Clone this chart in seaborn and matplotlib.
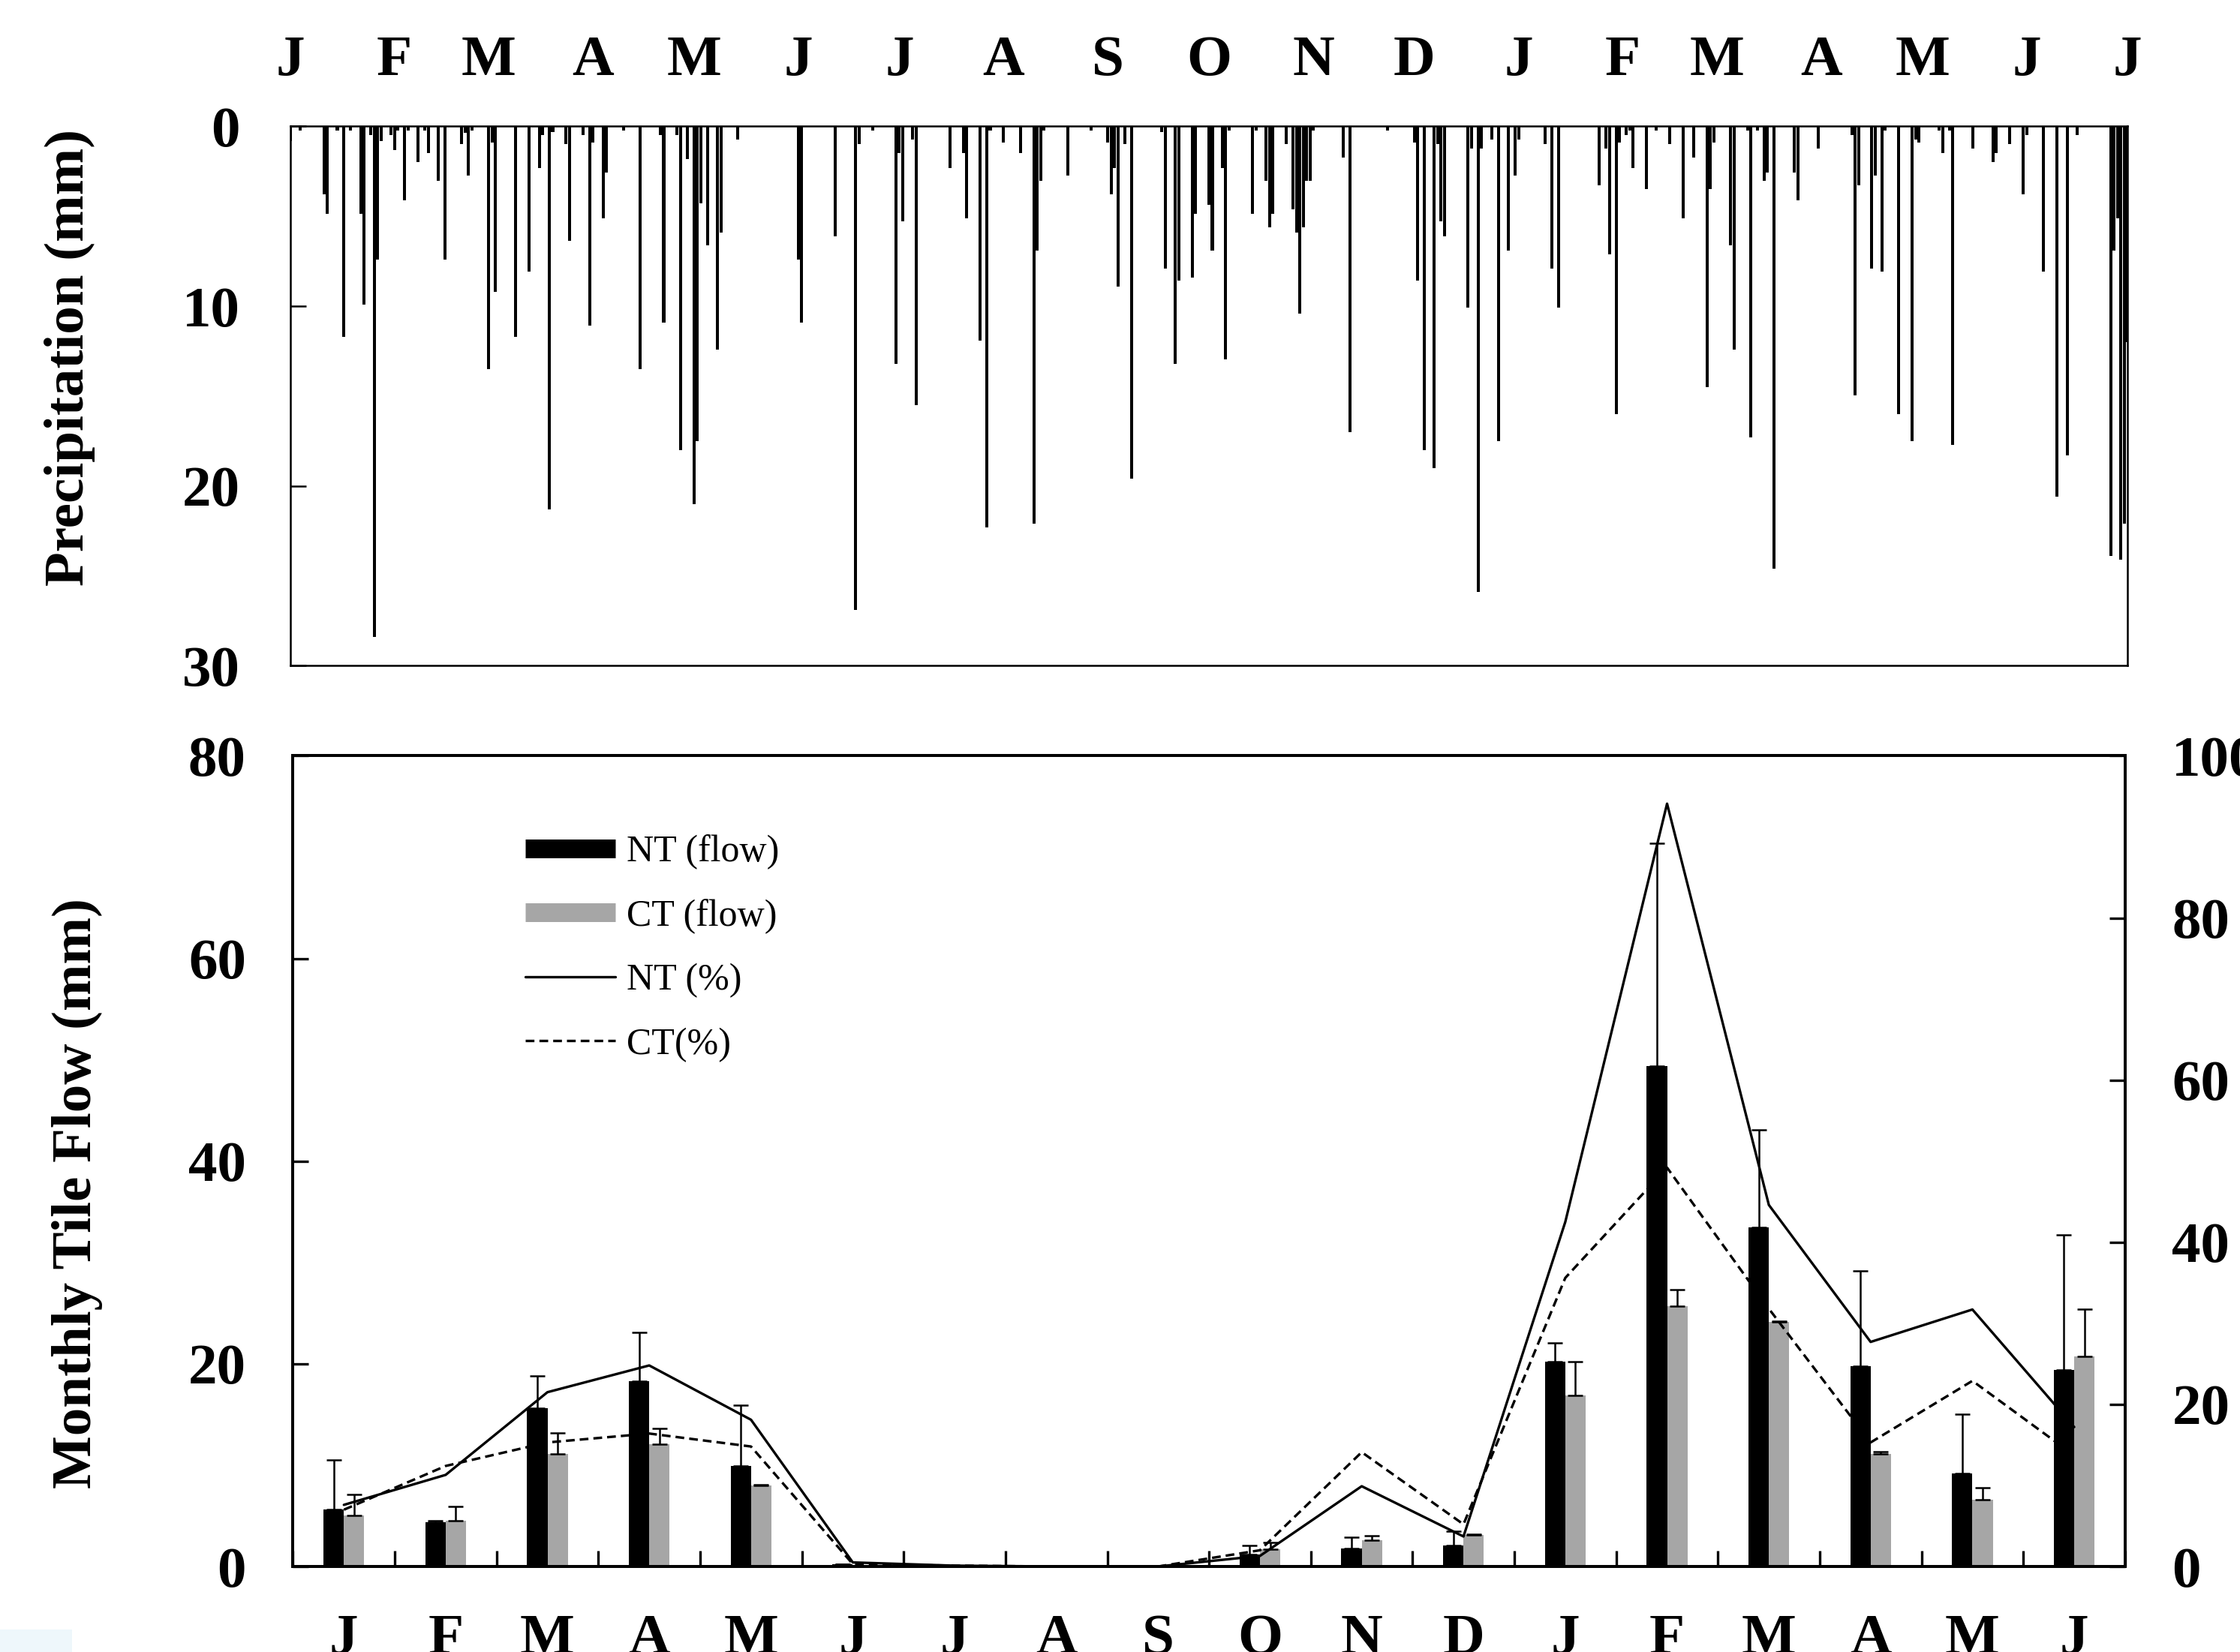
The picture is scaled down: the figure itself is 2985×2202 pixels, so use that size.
import numpy as np
import pandas as pd
import seaborn as sns
import matplotlib.pyplot as plt
from matplotlib.lines import Line2D
from matplotlib.patches import Rectangle

# ----------------------------------------------------------------- DATA -----------------------------------------------------------------

# Daily precipitation: day offset from 1 January of the first year, depth in mm
rain_day = [0, 3, 10, 11, 14, 16, 18, 21, 22, 24, 25, 26, 27, 30, 31, 32, 34, 35, 38, 40,
            41, 44, 46, 51, 52, 53, 54, 59, 60, 61, 67, 71, 74, 75, 77, 78, 82, 83, 87, 89,
            90, 93, 94, 99, 104, 110, 111, 115, 116, 118, 120, 121, 122, 124, 127, 128, 133, 151, 152, 162,
            168, 169, 173, 180, 181, 182, 185, 186, 196, 200, 201, 205, 207, 208, 212, 217, 221, 222, 223, 224,
            231, 238, 243, 244, 245, 246, 248, 250, 259, 260, 263, 264, 268, 269, 273, 274, 277, 278, 279, 286,
            287, 290, 291, 292, 296, 298, 299, 300, 301, 302, 303, 304, 313, 315, 326, 334, 335, 337, 340, 341,
            342, 343, 350, 351, 353, 354, 357, 359, 362, 364, 365, 373, 375, 377, 389, 391, 392, 394, 395, 397,
            398, 399, 403, 406, 410, 414, 417, 421, 422, 423, 428, 429, 433, 434, 436, 438, 439, 441, 447, 448,
            454, 464, 465, 466, 470, 471, 473, 474, 478, 482, 483, 484, 490, 491, 493, 494, 500, 506, 507, 511,
            515, 516, 521, 525, 528, 531, 541, 542, 543, 544, 545, 546]
rain_mm = [0.8, 0.25, 3.8, 4.85, 0.25, 11.7, 0.25, 4.85, 9.9, 0.5, 28.4, 7.4, 0.8, 0.5, 1.3, 0.25, 4.1, 0.25, 2.0, 0.25,
           1.5, 3.05, 7.4, 1.0, 0.35, 2.75, 0.25, 13.5, 0.9, 9.2, 11.7, 8.1, 2.3, 0.5, 21.3, 0.3, 1.0, 6.35, 0.5, 11.1,
           0.9, 5.1, 2.55, 0.25, 13.5, 0.5, 10.9, 0.5, 18.0, 1.8, 21.0, 17.5, 4.3, 6.6, 12.4, 5.9, 0.75, 7.4, 10.9, 6.1,
           26.9, 1.0, 0.25, 13.2, 1.5, 5.3, 0.75, 15.5, 2.3, 1.5, 5.1, 11.9, 22.3, 0.25, 0.9, 1.5, 22.1, 6.9, 3.05, 0.25,
           2.75, 0.25, 0.9, 3.8, 2.3, 8.9, 1.0, 19.6, 0.3, 7.9, 13.2, 8.6, 8.4, 4.85, 4.35, 6.9, 2.3, 12.95, 0.25, 4.85,
           0.25, 3.05, 5.6, 4.85, 1.0, 4.6, 5.9, 10.4, 5.6, 3.05, 3.05, 0.25, 1.75, 17.0, 0.25, 0.9, 8.6, 18.0, 19.0, 1.0,
           5.3, 6.1, 10.1, 1.25, 25.9, 1.25, 0.75, 17.5, 6.9, 2.75, 0.75, 1.0, 7.9, 10.1, 3.3, 1.25, 7.1, 16.0, 0.9, 0.5,
           0.25, 2.3, 3.5, 0.25, 1.0, 5.1, 1.75, 14.5, 3.5, 0.9, 6.6, 12.4, 0.25, 17.3, 0.25, 3.05, 2.55, 24.6, 2.55, 4.1,
           1.25, 0.5, 14.95, 3.3, 7.9, 2.75, 8.1, 0.25, 16.0, 17.5, 0.75, 0.9, 0.25, 1.5, 0.25, 17.7, 1.25, 2.0, 1.5, 1.0,
           3.8, 0.5, 8.1, 20.6, 18.3, 0.5, 23.9, 6.9, 5.1, 24.1, 22.1, 12.0]

# Month starts (day offsets) and their initials for the precipitation panel
month_start = [0, 31, 59, 90, 120, 151, 181, 212, 243, 273, 304, 334, 365, 396, 424, 455, 485, 516, 546]
month_letters = ["J", "F", "M", "A", "M", "J", "J", "A", "S", "O", "N", "D", "J", "F", "M", "A", "M", "J", "J"]

# Monthly tile flow (mm), upper error (mm) and flow as % of precipitation
flow_months = ["J", "F", "M", "A", "M", "J", "J", "A", "S", "O", "N", "D", "J", "F", "M", "A", "M", "J"]
nt_flow = [5.6, 4.4, 15.6, 18.3, 9.9, 0.2, 0.0, 0.0, 0.0, 1.2, 1.8, 2.1, 20.2, 49.4, 33.5, 19.8, 9.2, 19.4]
ct_flow = [5.0, 4.5, 11.1, 12.1, 8.0, 0.1, 0.0, 0.0, 0.0, 1.7, 2.6, 3.1, 16.9, 25.7, 24.1, 11.1, 6.6, 20.7]
nt_err = [4.9, 0.1, 3.2, 4.8, 6.0, 0.0, 0.0, 0.0, 0.0, 0.9, 1.1, 1.4, 1.9, 22.0, 9.6, 9.4, 5.8, 13.3]
ct_err = [2.1, 1.4, 2.1, 1.5, 0.1, 0.0, 0.0, 0.0, 0.0, 0.7, 0.4, 0.1, 3.3, 1.6, 0.1, 0.2, 1.2, 4.7]
nt_pct = [7.6, 11.3, 21.5, 24.8, 18.1, 0.5, 0.1, 0.0, 0.0, 1.3, 9.9, 3.7, 42.5, 94.1, 44.6, 27.7, 31.7, 17.2]
ct_pct = [7.0, 12.4, 15.3, 16.4, 14.8, 0.3, 0.1, 0.0, 0.0, 2.0, 14.1, 5.2, 35.6, 49.2, 31.8, 15.3, 22.9, 13.7]

# ----------------------------------------------------------------- STYLE -----------------------------------------------------------------

sns.set_theme(style="ticks")
plt.rcParams["font.family"] = ["Liberation Serif", "DejaVu Serif"]
plt.rcParams["font.weight"] = "bold"
plt.rcParams["axes.labelweight"] = "bold"
plt.rcParams["text.color"] = "black"
plt.rcParams["axes.labelcolor"] = "black"
plt.rcParams["xtick.color"] = "black"
plt.rcParams["ytick.color"] = "black"
plt.rcParams["xtick.labelcolor"] = "black"
plt.rcParams["ytick.labelcolor"] = "black"

TICK_FS = 18.5
LABEL_FS = 18
GRAY = "#a6a6a6"
DASH = (0, (3.5, 2))

fig = plt.figure(figsize=(9.95, 7.34), dpi=300)

# ------------------------------------------------------- PRECIPITATION PANEL -------------------------------------------------------------

ax_p = fig.add_axes([0.12955, 0.59709, 0.8203, 0.32643])
ax_p.bar(rain_day, rain_mm, width=0.9, color="black", linewidth=0)
ax_p.set_xlim(0, 546)
ax_p.set_ylim(30, 0)
ax_p.xaxis.tick_top()
ax_p.set_xticks(month_start, month_letters)
ax_p.set_yticks([0, 10, 20, 30])
ax_p.tick_params(axis="x", length=0, pad=12.5, labelsize=TICK_FS)
ax_p.tick_params(axis="y", direction="in", length=5, width=0.6, pad=16, labelsize=TICK_FS)
for s in ax_p.spines.values():
    s.set_linewidth(0.6)
    s.set_color("black")

# ------------------------------------------------------- TILE FLOW PANEL ---------------------------------------------------------------

ax_f = fig.add_axes([0.1308, 0.05177, 0.8179, 0.4907])

flow_df = pd.DataFrame({
    "pos": list(range(18)) * 2,
    "flow": nt_flow + ct_flow,
    "trt": ["NT"] * 18 + ["CT"] * 18,
})
sns.barplot(data=flow_df, x="pos", y="flow", hue="trt", hue_order=["NT", "CT"],
            palette={"NT": "black", "CT": GRAY}, width=0.4, errorbar=None,
            saturation=1, linewidth=0, legend=False, ax=ax_f)

pos = np.arange(18)
ax_f.errorbar(pos - 0.1, nt_flow, yerr=[np.zeros(18), nt_err], fmt="none", ecolor="black",
              elinewidth=0.6, capsize=2.5, capthick=0.6, zorder=3)
ax_f.errorbar(pos + 0.1, ct_flow, yerr=[np.zeros(18), ct_err], fmt="none", ecolor="black",
              elinewidth=0.6, capsize=2.5, capthick=0.6, zorder=3)

ax_r = ax_f.twinx()
sns.lineplot(x=pos, y=nt_pct, color="black", lw=0.8, ax=ax_r)
sns.lineplot(x=pos, y=ct_pct, color="black", lw=0.8, linestyle=DASH, ax=ax_r)

ax_f.set_xlim(-0.5, 17.5)
ax_f.set_ylim(0, 80)
ax_r.set_ylim(0, 100)
ax_f.set_xlabel("")
ax_f.set_ylabel("")
ax_r.set_ylabel("")

ax_f.set_xticks(pos, flow_months)
ax_f.set_xticks(np.arange(-0.5, 18, 1), minor=True)
ax_f.set_yticks([0, 20, 40, 60, 80])
ax_r.set_yticks([0, 20, 40, 60, 80, 100])
ax_f.tick_params(axis="x", which="major", length=0, pad=15, labelsize=TICK_FS)
ax_f.tick_params(axis="x", which="minor", direction="in", length=5, width=0.8)
ax_f.tick_params(axis="y", direction="in", length=5, width=0.8, pad=15, labelsize=TICK_FS)
ax_r.tick_params(axis="y", direction="in", length=5, width=0.8, pad=15, labelsize=TICK_FS)
for a in (ax_f, ax_r):
    for s in a.spines.values():
        s.set_linewidth(0.9)
        s.set_color("black")

handles = [
    Line2D([], [], color="black", lw=6, solid_capstyle="butt"),
    Line2D([], [], color=GRAY, lw=6, solid_capstyle="butt"),
    Line2D([], [], color="black", lw=0.8),
    Line2D([], [], color="black", lw=0.8, linestyle=DASH),
]
ax_r.legend(handles, ["NT (flow)", "CT (flow)", "NT (%)", "CT(%)"], loc="upper left",
            bbox_to_anchor=(0.1266, 0.903), borderaxespad=0, borderpad=0, frameon=False,
            handlelength=2.4, handletextpad=0.3, labelspacing=0.78,
            prop={"family": "Liberation Serif", "weight": "normal", "size": 12})

# ----------------------------------------------------------------- LABELS -----------------------------------------------------------------

fig.text(0.0312, 0.7838, "Precipitation (mm)", rotation=90, ha="center", va="center",
         fontsize=LABEL_FS, fontweight="bold")
fig.text(0.0345, 0.2779, "Monthly Tile Flow (mm)", rotation=90, ha="center", va="center",
         fontsize=LABEL_FS, fontweight="bold")

# faint scan mark in the bottom-left corner of the original
fig.add_artist(Rectangle((0, 0), 96 / 2985, 30 / 2202, transform=fig.transFigure,
                         facecolor="#eef7fb", edgecolor="none"))

fig.savefig("out.png", dpi=300)
